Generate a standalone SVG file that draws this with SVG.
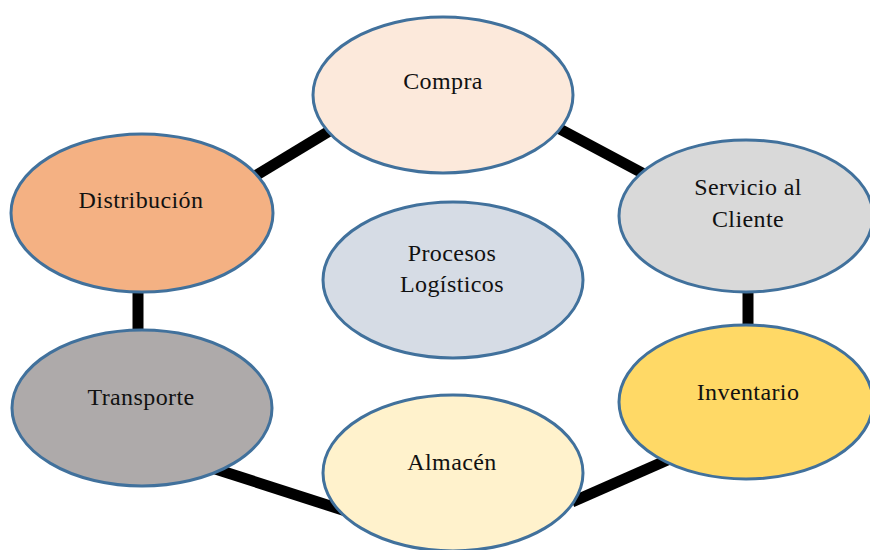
<svg xmlns="http://www.w3.org/2000/svg" width="870" height="550" viewBox="0 0 870 550">
<style>
.node ellipse{stroke:#41719C;stroke-width:3}
.node text{font-family:"Liberation Serif","Times New Roman",serif;font-size:24px;fill:#111;text-anchor:middle;letter-spacing:0.4px}
.conn line{stroke:#000;stroke-width:11;stroke-linecap:butt}
</style>
<rect width="870" height="550" fill="#fff"/>
<g id="connectors" class="conn">
<line x1="245" y1="182" x2="336" y2="127"/>
<line x1="556" y1="127" x2="646" y2="175"/>
<line x1="748" y1="285" x2="748" y2="332"/>
<line x1="138" y1="285" x2="138" y2="337"/>
<line x1="206" y1="466" x2="352" y2="513"/>
<line x1="572" y1="502" x2="672" y2="458"/>
</g>
<g id="compra" class="node">
<ellipse cx="443" cy="95" rx="130" ry="78" fill="#FCE9DB"/>
<text x="443" y="89">Compra</text>
</g>
<g id="servicio" class="node">
<ellipse cx="746" cy="216" rx="127" ry="76" fill="#D9D9D9"/>
<text x="748" y="195">Servicio al</text>
<text x="748" y="227">Cliente</text>
</g>
<g id="distribucion" class="node">
<ellipse cx="142" cy="213" rx="131" ry="79" fill="#F4B183"/>
<text x="141" y="208">Distribución</text>
</g>
<g id="procesos" class="node">
<ellipse cx="453" cy="280" rx="130" ry="78" fill="#D6DCE5"/>
<text x="452" y="261">Procesos</text>
<text x="452" y="292">Logísticos</text>
</g>
<g id="transporte" class="node">
<ellipse cx="142" cy="408" rx="130" ry="78" fill="#AEAAAA"/>
<text x="141" y="405">Transporte</text>
</g>
<g id="inventario" class="node">
<ellipse cx="746" cy="402" rx="127" ry="77" fill="#FFD966"/>
<text x="748" y="400">Inventario</text>
</g>
<g id="almacen" class="node">
<ellipse cx="453" cy="473" rx="130" ry="78" fill="#FFF2CC"/>
<text x="452" y="470">Almacén</text>
</g>
</svg>
